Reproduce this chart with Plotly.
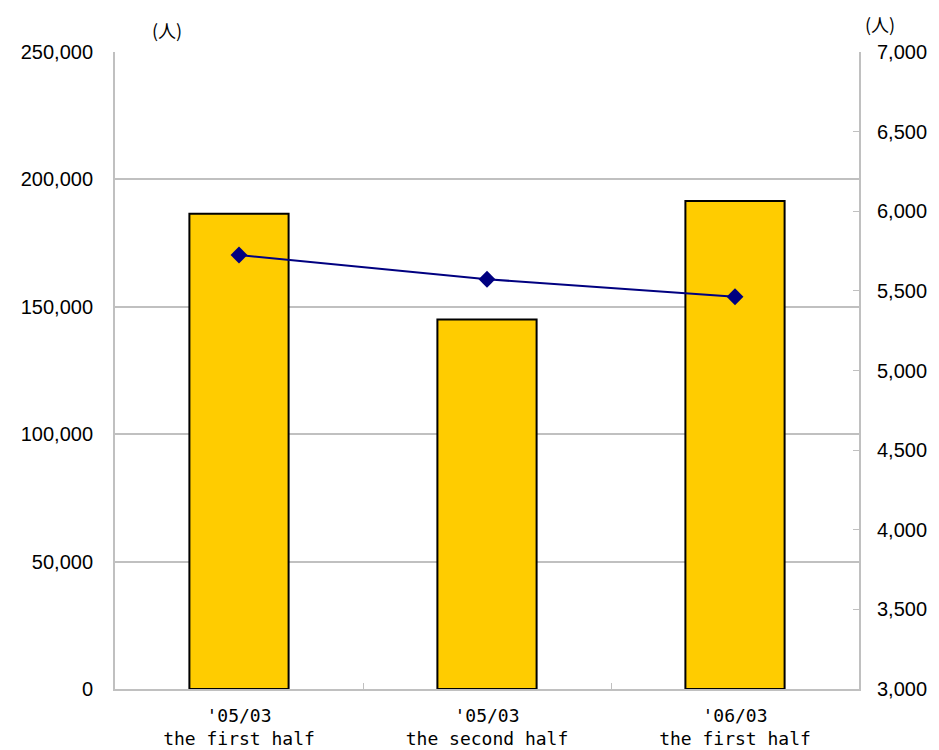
import plotly.graph_objects as go

periods = ["'05/03<br>the first half", "'05/03<br>the second half", "'06/03<br>the first half"]
bar_values = [186500, 145000, 191500]
line_values = [5725, 5573, 5463]

left_ticks = [0, 50000, 100000, 150000, 200000, 250000]
right_ticks = [3000, 3500, 4000, 4500, 5000, 5500, 6000, 6500, 7000]

grey = "#c0c0c0"
tick_font = dict(family="Liberation Sans, Arial, sans-serif", size=20, color="#000000")

fig = go.Figure()

fig.add_trace(go.Bar(
    x=periods, y=bar_values,
    marker=dict(color="#FFCC00", line=dict(color="#000000", width=2)),
    width=0.4,
    showlegend=False,
))

fig.add_trace(go.Scatter(
    x=periods, y=line_values, yaxis="y2",
    mode="lines+markers",
    line=dict(color="#000080", width=2),
    marker=dict(symbol="diamond", size=13, color="#000080"),
    showlegend=False,
))

fig.update_layout(
    width=939, height=750,
    margin=dict(l=107, r=88, t=44, b=69, autoexpand=False),
    paper_bgcolor="white", plot_bgcolor="white",
    xaxis=dict(
        showline=True, linecolor=grey, linewidth=2,
        showgrid=False, tickson="boundaries",
        ticks="inside", ticklen=6, tickcolor=grey, tickwidth=1,
        tickfont=dict(family="DejaVu Sans Mono, Liberation Mono, monospace", size=18, color="#000000"),
        ticklabelstandoff=9,
    ),
    yaxis=dict(
        range=[0, 250000], tickvals=left_ticks,
        ticktext=[f"{v:,}" for v in left_ticks],
        showgrid=True, gridcolor=grey, gridwidth=2,
        showline=True, linecolor=grey, linewidth=2,
        ticks="", ticklabelstandoff=16,
        tickfont=tick_font, zeroline=False,
    ),
    yaxis2=dict(
        range=[3000, 7000], tickvals=right_ticks,
        ticktext=[f"{v:,}" for v in right_ticks],
        overlaying="y", side="right",
        showgrid=False, showline=True, linecolor=grey, linewidth=2,
        ticks="inside", ticklen=6, tickcolor=grey, tickwidth=1,
        ticklabelstandoff=12,
        tickfont=tick_font, zeroline=False,
    ),
    annotations=[
        dict(text="(人)", xref="paper", yref="paper", x=0.07, y=1.0, yshift=7,
             xanchor="center", yanchor="bottom", showarrow=False,
             font=dict(family="Noto Sans CJK JP", size=18, color="#000000")),
        dict(text="(人)", xref="paper", yref="paper", x=1.028, y=1.0, yshift=13,
             xanchor="center", yanchor="bottom", showarrow=False,
             font=dict(family="Noto Sans CJK JP", size=18, color="#000000")),
    ],
)

fig.write_html("out.html")
